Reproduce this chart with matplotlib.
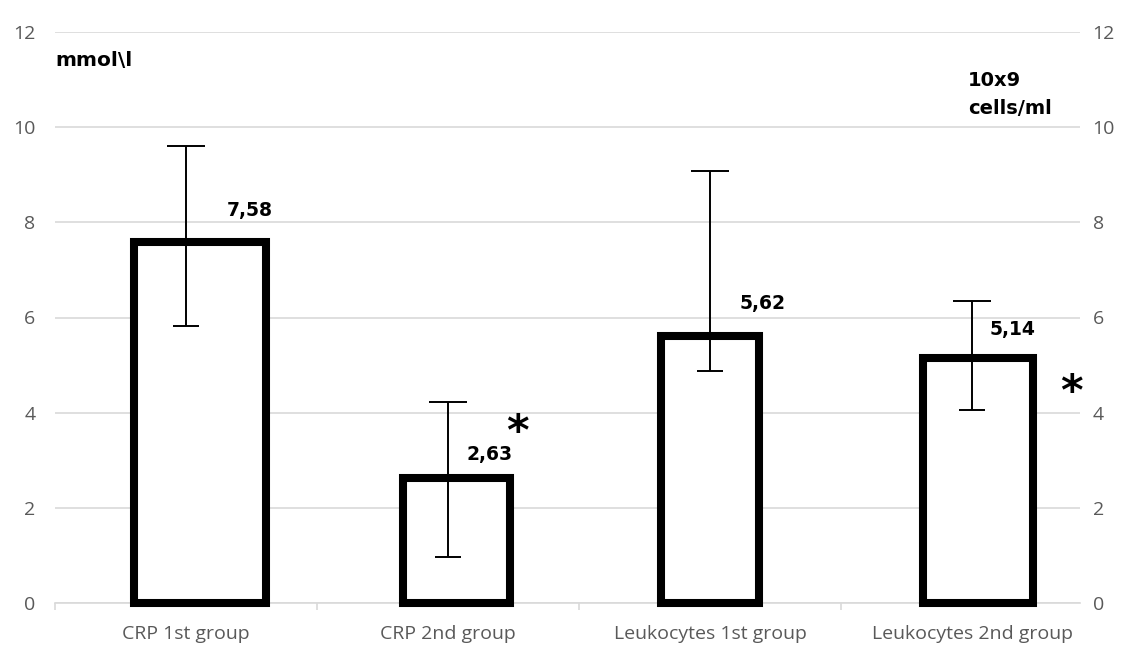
import matplotlib
matplotlib.use("Agg")
import matplotlib.pyplot as plt
import numpy as np

# data
groups = ["CRP 1st group", "CRP 2nd group", "Leukocytes 1st group", "Leukocytes 2nd group"]
means = [7.58, 2.63, 5.62, 5.14]
err_low = [5.82, 0.97, 4.87, 4.05]
err_high = [9.61, 4.22, 9.08, 6.34]
value_labels = ["7,58", "2,63", "5,62", "5,14"]
starred = [False, True, False, True]

# layout (the bars in the source sit a bit off the category centres)
bar_shift = [0.053, 0.034, 0.0, 0.023]
bar_width = [0.504, 0.408, 0.374, 0.42]
label_x = [0.244, 1.160, 2.202, 3.156]
label_dy = [16, 10, 16, 14]
star_pos = {1: (1.265, 3.59), 3: (3.38, 4.43)}

plt.rcParams['font.family'] = ['Open Sans', 'DejaVu Sans']
plt.rcParams['mathtext.fontset'] = 'dejavusans'
grey = '#595959'
bold_font = ['DejaVu Sans']

fig = plt.figure(figsize=(11.26, 6.53), dpi=100)
ax = fig.add_axes([55/1126, 50/653, 1025/1126, 571/653])

x = np.arange(len(groups))
ax.bar(x + np.array(bar_shift), means, width=bar_width, color='white',
       edgecolor='black', linewidth=5.8, joinstyle='miter', zorder=2.6, clip_on=False)

means = np.array(means)
lo = means - np.array(err_low)
hi = np.array(err_high) - means
zeros = np.zeros(len(means))
ax.errorbar(x, means, yerr=[zeros, hi], fmt='none', ecolor='black',
            elinewidth=1.4, capsize=13.5, capthick=1.4, zorder=3)
ax.errorbar(x, means, yerr=[lo, zeros], fmt='none', ecolor='black',
            elinewidth=1.4, capsize=9.7, capthick=1.4, zorder=3)

for i, lab in enumerate(value_labels):
    ax.annotate(lab, xy=(label_x[i], means[i]), xytext=(0, label_dy[i]), textcoords='offset points',
                ha='center', va='bottom', fontsize=13.5, fontweight='bold', family=bold_font,
                color='black', zorder=4)
# significance marks (mathtext keeps the box tight to the glyph)
for i, (sx, sy) in star_pos.items():
    if starred[i]:
        ax.text(sx, sy, r"$\mathbf{*}$", ha='center', va='center', fontsize=31,
                color='black', zorder=4)

ax.set_xlim(-0.5, -0.5 + 1025/262)
ax.set_ylim(0, 12)
ax.set_yticks(np.arange(0, 13, 2))
ax.yaxis.grid(True, color='#d9d9d9', linewidth=1.2)
ax.set_axisbelow(True)
for s in ['top', 'left', 'right']:
    ax.spines[s].set_visible(False)
ax.spines['bottom'].set_color('#d9d9d9')
ax.spines['bottom'].set_linewidth(1.2)

ax.set_xticks(x)
ax.set_xticklabels(groups, fontsize=14, color=grey)
ax.tick_params(axis='x', which='major', length=0, pad=16)
ax.set_xticks(np.arange(-0.5, 3.0, 1.0), minor=True)
ax.tick_params(axis='x', which='minor', length=5, color='#d9d9d9', width=1.2)
ax.tick_params(axis='y', length=0, pad=14, labelsize=14, labelcolor=grey)

ax2 = ax.twinx()
ax2.set_ylim(0, 12)
ax2.set_yticks(np.arange(0, 13, 2))
for s in ax2.spines.values():
    s.set_visible(False)
ax2.tick_params(axis='y', length=0, pad=9, labelsize=14, labelcolor=grey)

ax.text(0.0, 11.4, "mmol\\l", ha='left', va='center', fontsize=14.5, fontweight='bold',
        family=bold_font, transform=ax.get_yaxis_transform())
fig.text(968/1126, 1 - 80/653, "10x9", ha='left', va='center', fontsize=14,
         fontweight='bold', family=bold_font)
fig.text(968/1126, 1 - 109/653, "cells/ml", ha='left', va='center', fontsize=14,
         fontweight='bold', family=bold_font)

fig.savefig("out.png", dpi=100, facecolor='white')
